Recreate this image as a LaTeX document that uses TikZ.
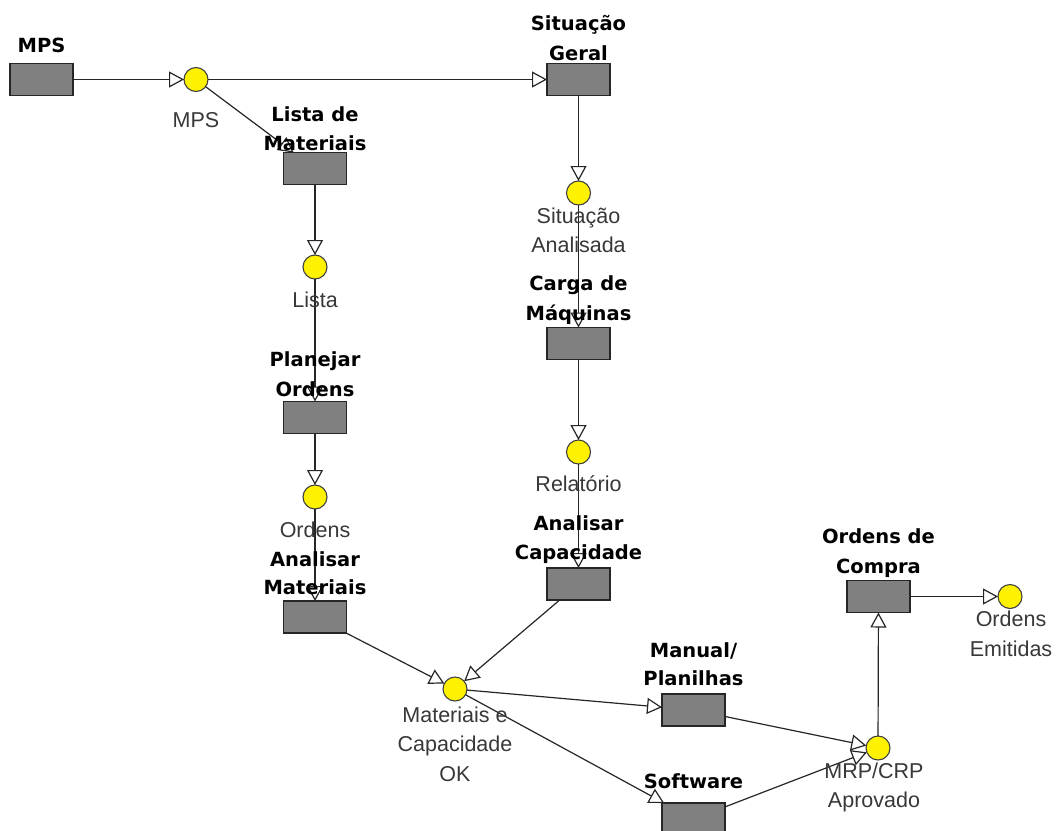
\documentclass[tikz,border=0pt]{standalone}
\usepackage{fontspec}
\setmainfont{Liberation Sans}
\newfontfamily\titlefont{DejaVu Sans}
\usetikzlibrary{arrows.meta}
\begin{document}
\begin{tikzpicture}[x=1pt,y=-1pt,
  proc/.style={draw=black!85, fill=gray, minimum width=63pt, minimum height=32pt, inner sep=0pt, outer sep=0pt, line width=1.2pt},
  place/.style={circle, draw=black!75, fill=yellow, minimum size=24pt, inner sep=0pt, outer sep=0pt, line width=1.1pt},
  flow/.style={draw=black!85, line width=1.2pt, -{Triangle[open, length=15pt, width=16pt, fill=white]}},
  tlab/.style={anchor=base, inner sep=0pt, font=\titlefont\bfseries\fontsize{19.5}{24}\selectfont, text=black},
  plab/.style={anchor=base, inner sep=0pt, font=\fontsize{21.5}{26}\selectfont, text=black!78}]
\fill[white] (0,0) rectangle (1062,830);
\useasboundingbox (0,0) rectangle (1062,830);
\clip (0,0) rectangle (1062,830);

% transitions
\node[proc] (rmps) at (41.5,79.5) {};
\node[proc] (rlista) at (315,168.5) {};
\node[proc] (rsitger) at (578.5,79.5) {};
\node[proc] (rcarga) at (578.5,343.5) {};
\node[proc] (rplan) at (315,417.5) {};
\node[proc] (ranmat) at (315,617) {};
\node[proc] (rancap) at (578.5,584) {};
\node[proc] (rmanual) at (693.5,710) {};
\node[proc] (rsoft) at (693.5,819) {};
\node[proc] (rcompra) at (878.5,596.5) {};

% places
\node[place] (pmps) at (196,79.5) {};
\node[place] (psitan) at (578.5,193) {};
\node[place] (plista) at (315,267) {};
\node[place] (pordens) at (315,497) {};
\node[place] (prel) at (578.5,452) {};
\node[place] (pmec) at (455,689) {};
\node[place] (pmrp) at (878,748) {};
\node[place] (pemit) at (1010,596.5) {};

% arcs
\draw[flow] (rmps) -- (pmps);
\draw[flow] (pmps) -- (rsitger);
\draw[flow] (pmps) -- (rlista);
\draw[flow] (rlista) -- (plista);
\draw[flow] (plista) -- (rplan);
\draw[flow] (rplan) -- (pordens);
\draw[flow] (pordens) -- (ranmat);
\draw[flow] (rsitger) -- (psitan);
\draw[flow] (psitan) -- (rcarga);
\draw[flow] (rcarga) -- (prel);
\draw[flow] (prel) -- (rancap);
\draw[flow] (ranmat) -- (pmec);
\draw[flow] (rancap) -- (pmec);
\draw[flow] (pmec) -- (rmanual);
\draw[flow] (pmec) -- (rsoft);
\draw[flow] (rmanual) -- (pmrp);
\draw[flow] (rsoft) -- (pmrp);
\draw[flow] (pmrp) -- (rcompra);
\draw[flow] (rcompra) -- (pemit);

% transition labels
\node[tlab] (t1) at (41.5,52) {MPS};
\node[tlab] (t2a) at (315,121) {Lista de};
\node[tlab] (t2b) at (315,150) {Materiais};
\node[tlab] (t3a) at (578.5,30) {Situação};
\node[tlab] (t3b) at (578.5,60) {Geral};
\node[tlab] (t4a) at (578.5,290) {Carga de};
\node[tlab] (t4b) at (578.5,320) {Máquinas};
\node[tlab] (t5a) at (315,366) {Planejar};
\node[tlab] (t5b) at (315,396) {Ordens};
\node[tlab] (t6a) at (315,566) {Analisar};
\node[tlab] (t6b) at (315,594) {Materiais};
\node[tlab] (t7a) at (578.5,530) {Analisar};
\node[tlab] (t7b) at (578.5,559) {Capacidade};
\node[tlab] (t8a) at (693.5,657) {Manual/};
\node[tlab] (t8b) at (693.5,685) {Planilhas};
\node[tlab] (t9) at (693.5,788) {Software};
\node[tlab] (t10a) at (878.5,543) {Ordens de};
\node[tlab] (t10b) at (878.5,573) {Compra};

% place labels
\node[plab] (l1) at (196,127) {MPS};
\node[plab] (l2a) at (578.5,223) {Situação};
\node[plab] (l2b) at (578.5,252) {Analisada};
\node[plab] (l3) at (315,307) {Lista};
\node[plab] (l4) at (315,537) {Ordens};
\node[plab] (l5) at (578.5,491) {Relatório};
\node[plab] (l6a) at (455,722) {Materiais e};
\node[plab] (l6b) at (455,751) {Capacidade};
\node[plab] (l6c) at (455,781) {OK};
\node[plab] (l7a) at (874,778) {MRP/CRP};
\node[plab] (l7b) at (874,807) {Aprovado};
\node[plab] (l8a) at (1011,626) {Ordens};
\node[plab] (l8b) at (1011,656) {Emitidas};
\end{tikzpicture}
\end{document}
